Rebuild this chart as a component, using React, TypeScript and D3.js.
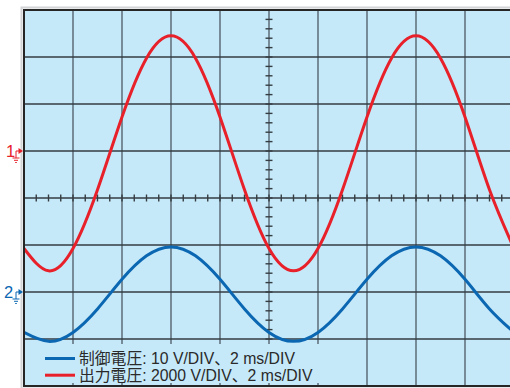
import React from 'react';
import * as d3 from 'd3';

// time axis, 2 ms/DIV, 10 divisions
const timeMs = [0, 1, 2, 3, 4, 5, 6, 7, 8, 9, 10, 11, 12, 13, 14, 15, 16, 17, 18, 19, 20];
// ch1 (red) output voltage, 2000 V/DIV
const outputVolts = [
  -4150, -5100, -4150, -1650, 1450, 3950, 4900, 3950, 1450, -1650,
  -4150, -5100, -4150, -1650, 1450, 3950, 4900, 3950, 1450, -1650, -4150,
];
// ch2 (blue) control voltage, 10 V/DIV
const controlVolts = [
  -8.6, -10.5, -8.6, -3.6, 2.7, 7.7, 9.6, 7.7, 2.7, -3.6,
  -8.6, -10.5, -8.6, -3.6, 2.7, 7.7, 9.6, 7.7, 2.7, -3.6, -8.6,
];
const legendLabels = ['制御電圧: 10 V/DIV、2 ms/DIV', '出力電圧: 2000 V/DIV、2 ms/DIV'];
const channelLabels = ['1', '2'];

const W = 510;
const H = 388;
const left = 24;
const top = 10;
const plotW = 490;
const plotH = 376;

const RED = '#e8202a';
const BLUE = '#0b67b2';
const BG = '#c6e9f9';

const x = d3.scaleLinear().domain([0, 20]).range([left, left + plotW]);
const yDiv = d3.scaleLinear().domain([-4, 4]).range([top + plotH, top]);
const ch1Offset = 1;
const ch2Offset = -2;
const y1 = (v: number) => yDiv(ch1Offset + v / 2000);
const y2 = (v: number) => yDiv(ch2Offset + v / 10);

const GroundMarker = ({ label, y, color, tx }: { label: string; y: number; color: string; tx: number }) => (
  <g stroke={color} fill="none" strokeWidth={1}>
    <text x={tx} y={y + 5.5} fill={color} stroke="none" fontSize={16.5}
      fontFamily="'Liberation Sans', Arial, sans-serif">{label}</text>
    <line x1={16} y1={y} x2={16} y2={y + 7} />
    <line x1={16} y1={y} x2={19} y2={y} />
    <path d={`M18.5,${y - 3}L23,${y}L18.5,${y + 3}Z`} fill={color} stroke="none" />
    <line x1={12.5} y1={y + 7} x2={19.5} y2={y + 7} />
    <line x1={14} y1={y + 9.3} x2={18} y2={y + 9.3} />
    <line x1={15.2} y1={y + 11.5} x2={16.8} y2={y + 11.5} />
  </g>
);

export default function App() {
  const redLine = d3.line<number>()
    .x((_, i) => x(timeMs[i]))
    .y(d => y1(d))
    .curve(d3.curveNatural);
  const blueLine = d3.line<number>()
    .x((_, i) => x(timeMs[i]))
    .y(d => y2(d))
    .curve(d3.curveNatural);

  const vGrid = d3.range(0, 21, 2);
  const hGrid = d3.range(-4, 5, 1);
  const hTicks = d3.range(0, 20.01, 0.5);
  const vTicks = d3.range(-4, 4.01, 0.2);
  const cx = x(10);
  const cy = yDiv(0);

  return (
    <div style={{ position: 'fixed', left: 0, top: 0 }}>
      <svg width={W} height={H} style={{ display: 'block', background: '#fff' }}>
        <defs>
          <clipPath id="plot">
            <rect x={left} y={top} width={plotW} height={plotH} />
          </clipPath>
        </defs>
        <rect x={left - 2.5} y={top - 2.5} width={plotW + 5} height={plotH + 5} fill="none" stroke="#d2d4d6" strokeWidth={2} />
        <rect x={left} y={top} width={plotW} height={plotH} fill={BG} />

        <g clipPath="url(#plot)">
          {vGrid.map(t => (
            <line key={'v' + t} x1={x(t)} x2={x(t)} y1={top} y2={top + plotH} stroke="#62747f" strokeWidth={1.6} />
          ))}
          {hGrid.map(d => (
            <line key={'h' + d} x1={left} x2={left + plotW} y1={yDiv(d)} y2={yDiv(d)} stroke="#353d42" strokeWidth={1.5} />
          ))}
          {hTicks.map(t => (
            <line key={'ht' + t} x1={x(t)} x2={x(t)} y1={cy - 3.5} y2={cy + 3.5} stroke="#353d42" strokeWidth={1.4} />
          ))}
          {vTicks.map(d => (
            <line key={'vt' + d} x1={cx - 3.5} x2={cx + 3.5} y1={yDiv(d)} y2={yDiv(d)} stroke="#353d42" strokeWidth={1.4} />
          ))}

          <path d={blueLine(controlVolts) || ''} fill="none" stroke={BLUE} strokeWidth={3} />
          <path d={redLine(outputVolts) || ''} fill="none" stroke={RED} strokeWidth={3} />

          <rect x={left} y={344} width={316} height={39} fill={BG} />
          {legendLabels.map((label, i) => (
            <g key={label}>
              <line x1={45} x2={75} y1={358.5 + i * 16.7} y2={358.5 + i * 16.7} stroke={i === 0 ? BLUE : RED} strokeWidth={3} />
              <text x={79} y={364 + i * 17} fontSize={15.8} fill="#2a2a2a"
                fontFamily="'Liberation Sans', Arial, 'Noto Sans CJK JP', sans-serif">{label}</text>
            </g>
          ))}
        </g>

        <rect x={left} y={top} width={plotW} height={plotH} fill="none" stroke="#262626" strokeWidth={2} />

        <GroundMarker label={channelLabels[0]} y={yDiv(ch1Offset)} color={RED} tx={6} />
        <GroundMarker label={channelLabels[1]} y={yDiv(ch2Offset)} color={BLUE} tx={4} />
      </svg>
    </div>
  );
}
